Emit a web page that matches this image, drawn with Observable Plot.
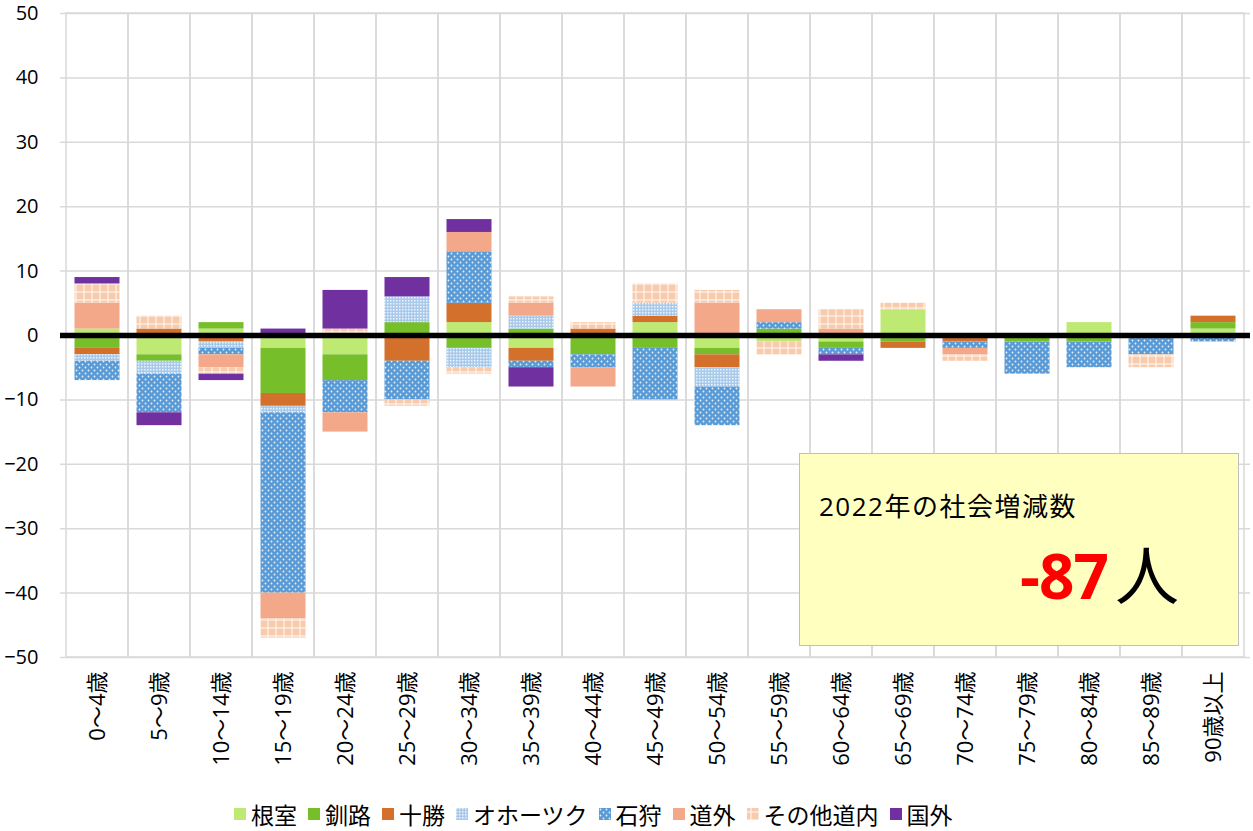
<!DOCTYPE html>
<html>
<head>
<meta charset="utf-8">
<script src="https://cdn.jsdelivr.net/npm/d3@7"></script>
<script src="https://cdn.jsdelivr.net/npm/@observablehq/plot@0.6"></script>
<style>
  html, body { margin: 0; padding: 0; background: #fff; }
  body { width: 1253px; height: 831px; position: relative; overflow: hidden;
         font-family: "Open Sans", "Noto Sans CJK JP", sans-serif; }
  #chart { position: absolute; left: 0; top: 0; }
  #legend { position: absolute; left: 234px; top: 802px; height: 24px; display: flex; align-items: center;
            font-size: 23px; line-height: 24px; color: #000; white-space: nowrap; font-family: "Noto Sans CJK JP", sans-serif; }
  #legend .item { display: flex; align-items: center; margin-right: 11px; height: 24px; }
  #legend svg { margin-right: 5px; }
  #box { position: absolute; left: 799px; top: 453px; width: 440px; height: 193px;
         background: #FFFFC0; border: 1.5px solid #BFBFBF; box-sizing: border-box; }
  #box .t1 { position: absolute; left: 19px; top: 32px; font-size: 26px; color: #000; letter-spacing: 1.5px;
             font-family: "Open Sans", "Noto Sans CJK JP", sans-serif; }
  #box .t2 { position: absolute; left: 220px; top: 79px; font-size: 62px; font-weight: bold; color: #FF0000;
             font-family: "Open Sans", "Noto Sans CJK JP", sans-serif; letter-spacing: -1px; }
  #box .t3 { position: absolute; left: 315px; top: 71px; font-size: 64px; color: #000;
             font-family: "Noto Sans CJK JP", sans-serif; }
</style>
</head>
<body>
<div id="chart"></div>
<div id="legend"></div>
<div id="box"><span class="t1">2022年の社会増減数</span><span class="t2">-87</span><span class="t3">人</span></div>
<script>
const categories = ["0～4歳","5～9歳","10～14歳","15～19歳","20～24歳","25～29歳","30～34歳","35～39歳","40～44歳","45～49歳","50～54歳","55～59歳","60～64歳","65～69歳","70～74歳","75～79歳","80～84歳","85～89歳","90歳以上"];
const seriesNames = ["根室","釧路","十勝","オホーツク","石狩","道外","その他道内","国外"];
const nemuro   = [1, -3, 1, -2, -3, 0, 2, -2, 0, 2, -2, -1, -1, 4, 0, 0, 2, 0, 1];
const kushiro  = [-2, -1, 1, -7, -4, 2, -2, 1, -3, -2, -1, 1, -1, -1, 0, -1, -1, 0, 1];
const tokachi  = [-1, 1, -1, -2, 0, -4, 3, -2, 1, 1, -2, 0, 0, -1, -1, 0, 0, 0, 1];
const okhotsk  = [-1, -2, -1, -1, 0, 4, -3, 2, 0, 2, -3, 0, 0, 0, 0, 0, 0, 0, 0];
const ishikari = [-3, -6, -1, -28, -5, -6, 8, -1, -2, -8, -6, 1, -1, 0, -1, -5, -4, -3, -1];
const dougai   = [4, 0, -2, -4, -3, 0, 3, 2, -3, 0, 5, 2, 1, 0, -1, 0, 0, 0, 0];
const sonota   = [3, 2, -1, -3, 1, -1, -1, 1, 1, 3, 2, -2, 3, 1, -1, 0, 0, -2, 0];
const kokugai  = [1, -2, -1, 1, 6, 3, 2, -3, 0, 0, 0, 0, -1, 0, 0, 0, 0, 0, 0];
const yTicks = [-50, -40, -30, -20, -10, 0, 10, 20, 30, 40, 50];

const seriesValues = [nemuro, kushiro, tokachi, okhotsk, ishikari, dougai, sonota, kokugai];
const fills = ["#BEEA73", "#77BF2A", "#D2702C", "url(#pat-okhotsk)", "url(#pat-ishikari)", "#F3A88A", "url(#pat-sonota)", "#7030A0"];

const rows = [];
categories.forEach((c, i) => {
  seriesNames.forEach((s, j) => rows.push({age: c, series: s, value: seriesValues[j][i]}));
});

const svg = Plot.plot({
  width: 1253,
  height: 790,
  marginLeft: 60,
  marginRight: 3,
  marginTop: 13,
  marginBottom: 133,
  style: {fontFamily: '"Open Sans", "Noto Sans CJK JP", sans-serif', fontSize: "20px", color: "#000", background: "transparent"},
  x: {domain: categories, padding: 0},
  y: {domain: [-50, 50]},
  color: {domain: seriesNames, range: fills},
  marks: [
    Plot.ruleY(yTicks, {stroke: "#D9D9D9", strokeWidth: 1.5}),
    Plot.barY(categories, {x: d => d, y1: -50, y2: 50, fill: "none", stroke: "#D9D9D9", strokeWidth: 1.5}),
    Plot.barY(rows, Plot.stackY({x: "age", y: "value", z: "series", fill: "series", insetLeft: 8.5, insetRight: 8.5, order: null})),
    Plot.ruleY([0], {stroke: "#000", strokeWidth: 5.5}),
    Plot.axisY({ticks: yTicks, tickSize: 0, tickPadding: 22, label: null, fontSize: 20}),
    Plot.axisX({tickRotate: -90, tickSize: 0, tickPadding: 14, label: null, fontSize: 22})
  ]
});

const defsMarkup = `
<pattern id="pat-ishikari" patternUnits="userSpaceOnUse" width="6" height="6">
  <rect width="6" height="6" fill="#5B9BD5"/>
  <circle cx="1.5" cy="1.5" r="0.9" fill="#fff" fill-opacity="0.85"/>
  <circle cx="4.5" cy="4.5" r="0.9" fill="#fff" fill-opacity="0.85"/>
</pattern>
<pattern id="pat-okhotsk" patternUnits="userSpaceOnUse" width="3" height="3">
  <rect width="3" height="3" fill="#A9C9EB"/>
  <rect x="0" y="0" width="1.5" height="1.5" fill="#fff" fill-opacity="0.8"/>
</pattern>
<pattern id="pat-sonota" patternUnits="userSpaceOnUse" width="8" height="8">
  <rect width="8" height="8" fill="#F8CBAD"/>
  <rect x="3" y="0" width="2" height="8" fill="#fff" fill-opacity="0.45"/>
  <rect x="0" y="3" width="8" height="2" fill="#fff" fill-opacity="0.45"/>
</pattern>`;

const ns = "http://www.w3.org/2000/svg";
const defs = document.createElementNS(ns, "defs");
defs.innerHTML = defsMarkup;
svg.insertBefore(defs, svg.firstChild);
document.getElementById("chart").appendChild(svg);

const legend = d3.select("#legend");
seriesNames.forEach((s, j) => {
  const item = legend.append("div").attr("class", "item");
  const sw = item.append("svg").attr("width", 12).attr("height", 12);
  sw.append("rect").attr("width", 12).attr("height", 12).attr("fill", fills[j]);
  item.append("span").text(s);
});
</script>
</body>
</html>
